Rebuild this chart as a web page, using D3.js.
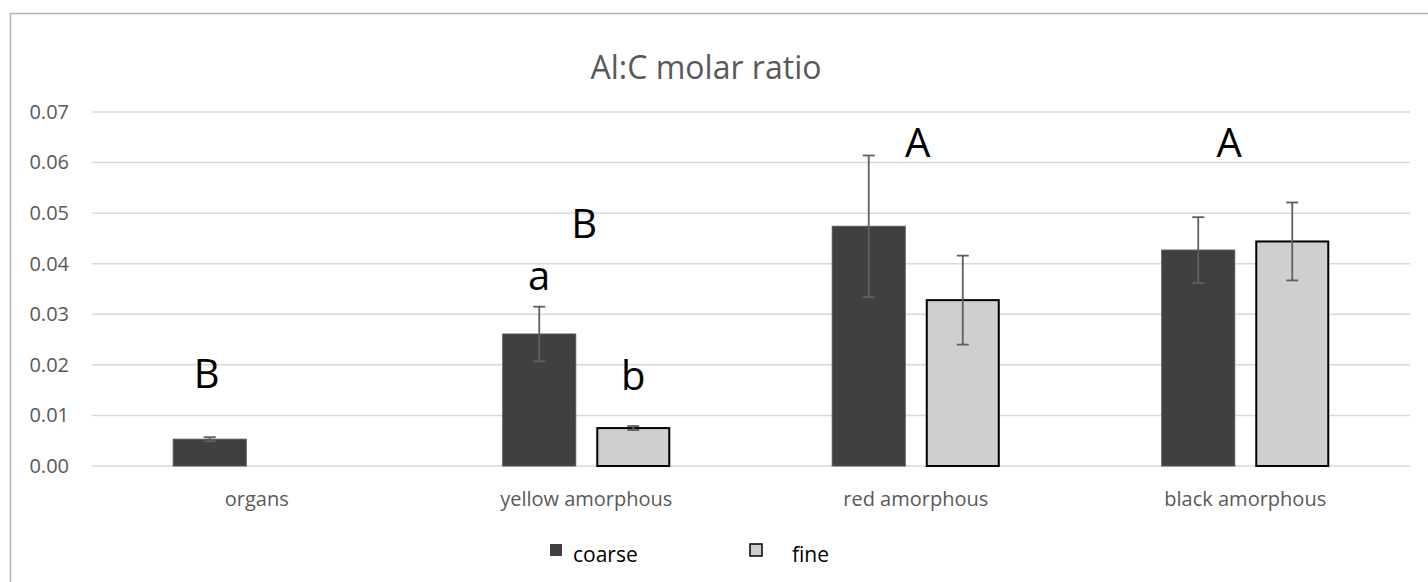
<!DOCTYPE html>
<html>
<head>
<meta charset="utf-8">
<script src="https://cdn.jsdelivr.net/npm/d3@7/dist/d3.min.js"></script>
<style>
  html, body { margin: 0; padding: 0; background: #fff; }
  svg { display: block; font-family: "Open Sans", sans-serif; }
</style>
</head>
<body>
<svg id="chart" width="1428" height="582"></svg>
<script>
// ---- data ----
const categories = ["organs", "yellow amorphous", "red amorphous", "black amorphous"];
const seriesNames = ["coarse", "fine"];
const coarseValues = [0.0053, 0.0261, 0.0474, 0.0427];
const coarseErrors = [0.0004, 0.0054, 0.0140, 0.0065];
const fineValues = [null, 0.0075, 0.0328, 0.0444];
const fineErrors = [null, 0.0004, 0.0088, 0.0077];
const yTicks = [0, 0.01, 0.02, 0.03, 0.04, 0.05, 0.06, 0.07];
const title = "Al:C molar ratio";
// significance letters: text, category, anchor (series or group), baseline value
const letterTexts = ["B", "a", "b", "B", "A", "A"];
const letterCats = ["organs", "yellow amorphous", "yellow amorphous", "yellow amorphous", "red amorphous", "black amorphous"];
const letterAnchors = ["coarse", "coarse", "fine", "group", "group", "group"];
const letterValues = [0.0154, 0.0348, 0.0150, 0.0451, 0.0611, 0.0612];

// ---- layout ----
const W = 1428, H = 582;
const plot = { left: 92, right: 1410, top: 112, bottom: 466 };
const colors = { coarse: "#404040", fine: "#d0cece" };
const strokes = { coarse: "#555555", fine: "#000000" };

const svg = d3.select("#chart");

// outer border (top & left visible)
svg.append("rect")
  .attr("x", 10.5).attr("y", 13.5)
  .attr("width", W + 20).attr("height", H + 20)
  .attr("fill", "none").attr("stroke", "#b3b3b3").attr("stroke-width", 1.5);

const x0 = d3.scaleBand().domain(categories).range([plot.left, plot.right]).padding(0);
const groupPad = x0.bandwidth() * 0.245;
const x1 = d3.scaleBand().domain(seriesNames)
  .range([groupPad, x0.bandwidth() - groupPad]).paddingInner(0.213).paddingOuter(0);
const y = d3.scaleLinear().domain([0, 0.07]).range([plot.bottom, plot.top]);

// gridlines
svg.append("g").selectAll("line").data(yTicks).join("line")
  .attr("x1", plot.left).attr("x2", plot.right)
  .attr("y1", d => y(d)).attr("y2", d => y(d))
  .attr("stroke", "#d9d9d9").attr("stroke-width", 1.5);

// y axis labels
const yAxis = d3.axisLeft(y).tickValues(yTicks).tickFormat(d3.format(".2f")).tickSize(0).tickPadding(0);
const yg = svg.append("g").attr("transform", `translate(69,0)`).call(yAxis);
yg.select(".domain").remove();
yg.selectAll("text").attr("font-size", 20).attr("fill", "#595959").attr("font-family", "Open Sans, sans-serif");

// x axis labels
const xAxis = d3.axisBottom(x0).tickSize(0).tickPadding(0);
const xg = svg.append("g").attr("transform", `translate(0,${plot.bottom + 26})`).call(xAxis);
xg.select(".domain").remove();
xg.selectAll("text").attr("font-size", 20).attr("fill", "#595959").attr("font-family", "Open Sans, sans-serif");

// bars
const rows = [];
categories.forEach((c, i) => {
  rows.push({ cat: c, s: "coarse", v: coarseValues[i], e: coarseErrors[i] });
  rows.push({ cat: c, s: "fine", v: fineValues[i], e: fineErrors[i] });
});
const valid = rows.filter(r => r.v != null);

svg.append("g").selectAll("rect").data(valid).join("rect")
  .attr("x", d => x0(d.cat) + x1(d.s) + (d.s === "fine" ? 1 : 0.5))
  .attr("width", d => x1.bandwidth() - (d.s === "fine" ? 2 : 1))
  .attr("y", d => y(d.v))
  .attr("height", d => y(0) - y(d.v))
  .attr("fill", d => colors[d.s])
  .attr("stroke", d => strokes[d.s])
  .attr("stroke-width", d => d.s === "fine" ? 2 : 1);

// error bars
const eg = svg.append("g").attr("stroke", "#5f5f5f").attr("stroke-width", 1.8).attr("fill", "none");
valid.forEach(d => {
  const cx = x0(d.cat) + x1(d.s) + x1.bandwidth() / 2;
  const yt = y(d.v + d.e), yb = y(d.v - d.e);
  eg.append("line").attr("x1", cx).attr("x2", cx).attr("y1", yt).attr("y2", yb);
  eg.append("line").attr("x1", cx - 6).attr("x2", cx + 6).attr("y1", yt).attr("y2", yt);
  eg.append("line").attr("x1", cx - 6).attr("x2", cx + 6).attr("y1", yb).attr("y2", yb);
});

// significance letters
const letterShift = { organs: -3, "yellow amorphous": -2, "red amorphous": 2, "black amorphous": -16 };
svg.append("g").selectAll("text").data(letterTexts).join("text")
  .attr("x", (t, i) => {
    const c = letterCats[i], a = letterAnchors[i];
    if (a === "group") return x0(c) + x0.bandwidth() / 2 + letterShift[c];
    return x0(c) + x1(a) + x1.bandwidth() / 2 + (a === "coarse" && c === "organs" ? -3 : 0);
  })
  .attr("y", (t, i) => y(letterValues[i]))
  .attr("text-anchor", "middle")
  .attr("font-size", 40)
  .attr("fill", "#000")
  .text(t => t);

// title
svg.append("text")
  .attr("x", 706).attr("y", 79)
  .attr("text-anchor", "middle")
  .attr("font-size", 32)
  .attr("fill", "#595959")
  .text(title);

// legend
const legendX = [550, 750];
const legendTextX = [573, 792];
const lg = svg.append("g");
seriesNames.forEach((s, i) => {
  lg.append("rect")
    .attr("x", legendX[i]).attr("y", 544)
    .attr("width", 12).attr("height", 12)
    .attr("fill", colors[s])
    .attr("stroke", s === "fine" ? "#000" : "none")
    .attr("stroke-width", 1.5);
  lg.append("text")
    .attr("x", legendTextX[i]).attr("y", 562)
    .attr("font-size", 21)
    .attr("fill", "#000")
    .text(s);
});
</script>
</body>
</html>
